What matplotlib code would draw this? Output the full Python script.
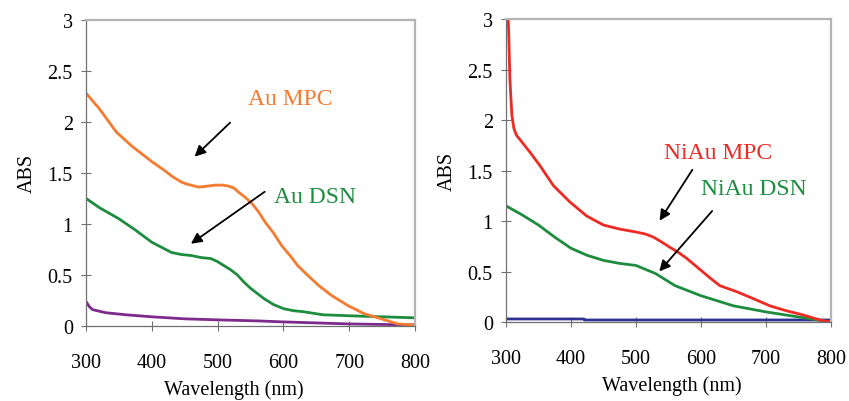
import matplotlib.pyplot as plt
from matplotlib.ticker import FuncFormatter

plt.rcParams['font.family'] = ['Liberation Serif', 'DejaVu Serif']

# left panel: Au
au_mpc_x = [300, 320, 346, 370, 400, 420, 432, 445, 453, 465, 472, 485, 497, 507, 517, 525, 532, 542, 552, 562, 572, 585, 597, 610, 622, 638, 653, 673, 698, 723, 749, 774, 800]
au_mpc_y = [2.28, 2.13, 1.90, 1.76, 1.61, 1.52, 1.46, 1.41, 1.39, 1.37, 1.36, 1.37, 1.38, 1.38, 1.37, 1.35, 1.31, 1.26, 1.20, 1.12, 1.02, 0.91, 0.79, 0.69, 0.59, 0.49, 0.40, 0.30, 0.20, 0.12, 0.07, 0.02, 0.01]
au_dsn_x = [300, 320, 350, 375, 400, 415, 430, 445, 460, 475, 490, 500, 510, 520, 530, 540, 550, 560, 570, 585, 600, 615, 630, 660, 700, 750, 800]
au_dsn_y = [1.25, 1.16, 1.05, 0.94, 0.82, 0.77, 0.72, 0.70, 0.69, 0.67, 0.66, 0.63, 0.59, 0.55, 0.50, 0.43, 0.37, 0.32, 0.27, 0.21, 0.17, 0.15, 0.14, 0.11, 0.10, 0.09, 0.08]
au_ref_x = [300, 305, 310, 330, 360, 400, 450, 500, 560, 600, 700, 800]
au_ref_y = [0.24, 0.19, 0.16, 0.13, 0.11, 0.09, 0.07, 0.06, 0.05, 0.04, 0.02, 0.01]

# right panel: NiAu
niau_mpc_x = [302, 304, 306, 309, 312, 316, 321, 337, 352, 373, 398, 424, 450, 475, 501, 515, 527, 540, 552, 565, 578, 591, 604, 617, 629, 655, 681, 706, 732, 757, 783, 800]
niau_mpc_y = [3.2, 2.9, 2.4, 2.05, 1.92, 1.85, 1.81, 1.68, 1.55, 1.35, 1.19, 1.05, 0.96, 0.92, 0.89, 0.87, 0.84, 0.79, 0.74, 0.69, 0.63, 0.56, 0.49, 0.42, 0.36, 0.30, 0.23, 0.16, 0.11, 0.07, 0.02, 0.0]
niau_dsn_x = [300, 325, 350, 375, 400, 425, 450, 475, 500, 515, 530, 545, 560, 580, 600, 625, 650, 700, 750, 800]
niau_dsn_y = [1.15, 1.06, 0.96, 0.84, 0.73, 0.66, 0.61, 0.58, 0.56, 0.52, 0.48, 0.42, 0.36, 0.31, 0.26, 0.21, 0.16, 0.10, 0.05, 0.0]
niau_ref_x = [300, 420, 421, 800]
niau_ref_y = [0.03, 0.03, 0.02, 0.02]

xticks = [300, 400, 500, 600, 700, 800]
yticks = [0, 0.5, 1, 1.5, 2, 2.5, 3]

fig = plt.figure(figsize=(8.49, 4.02), dpi=100)
ax1 = fig.add_axes([0.1013, 0.1866, 0.3875, 0.762])
ax2 = fig.add_axes([0.596, 0.1965, 0.3828, 0.7537])

ax1.plot(au_ref_x, au_ref_y, color='#7d2a8c', lw=2)
ax1.plot(au_dsn_x, au_dsn_y, color='#1e8c3e', lw=2)
ax1.plot(au_mpc_x, au_mpc_y, color='#f47b30', lw=2)

ax2.plot(niau_ref_x, niau_ref_y, color='#2e3192', lw=2)
ax2.plot(niau_dsn_x, niau_dsn_y, color='#1e8c3e', lw=2)
ax2.plot(niau_mpc_x, niau_mpc_y, color='#ee2a24', lw=2)

fmt = FuncFormatter(lambda v, p: ('%g' % v))
for ax in (ax1, ax2):
    ax.set_xlim(300, 800)
    ax.set_ylim(0, 3)
    ax.set_xticks(xticks)
    ax.set_yticks(yticks)
    ax.yaxis.set_major_formatter(fmt)
    ax.tick_params(axis='both', direction='inout', length=7, width=0.8,
                   color='#707070', labelsize=14.5)
    ax.tick_params(axis='x', pad=16)
    ax.tick_params(axis='y', pad=6)
    for s in ('left', 'bottom'):
        ax.spines[s].set_color('#707070')
        ax.spines[s].set_linewidth(0.9)
    for s in ('top', 'right'):
        ax.spines[s].set_color('#b4b4b4')
        ax.spines[s].set_linewidth(1.6)
    ax.set_ylabel('ABS', fontsize=14.5, labelpad=8)
    ax.set_xlabel('Wavelength (nm)', fontsize=14.5, labelpad=5)
ax1.xaxis.label.set_x(0.45)
ax2.xaxis.label.set_x(0.51)

arrow = dict(arrowstyle='-|>', color='black', lw=1.3, mutation_scale=16)
ax1.annotate('', xy=(462, 1.64), xytext=(522, 2.01), arrowprops=arrow)
ax1.annotate('', xy=(456, 0.79), xytext=(575, 1.33), arrowprops=arrow)
ax1.text(611, 2.23, 'Au MPC', color='#f47b30', fontsize=17, ha='center', va='center')
ax1.text(648, 1.27, 'Au DSN', color='#1e8c3e', fontsize=17, ha='center', va='center')

ax2.annotate('', xy=(534, 0.98), xytext=(589, 1.53), arrowprops=arrow)
ax2.annotate('', xy=(533, 0.48), xytext=(620, 1.12), arrowprops=arrow)
ax2.text(626, 1.68, 'NiAu MPC', color='#ee2a24', fontsize=17, ha='center', va='center')
ax2.text(681, 1.32, 'NiAu DSN', color='#1e8c3e', fontsize=17, ha='center', va='center')

fig.savefig('out.png', dpi=100)
